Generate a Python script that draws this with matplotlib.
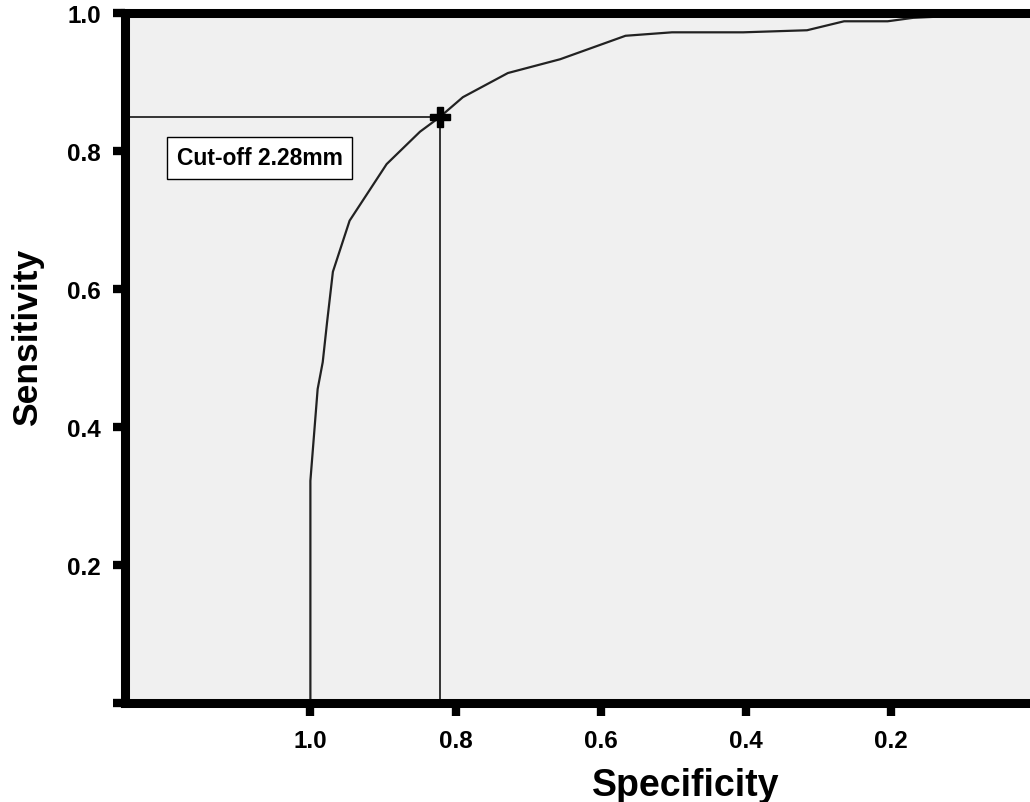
import matplotlib
matplotlib.use('Agg')
import matplotlib.pyplot as plt

plt.rcParams['font.family'] = ['Liberation Sans', 'DejaVu Sans']
plt.rcParams['font.weight'] = 'bold'

# ROC curve
specificity = [1.000, 1.000, 0.990, 0.983, 0.977, 0.969, 0.946, 0.895, 0.849,
               0.822, 0.790, 0.728, 0.656, 0.566, 0.502, 0.404, 0.316, 0.265,
               0.205, 0.170, 0.110, 0.050, 0.000]
sensitivity = [0.000, 0.322, 0.455, 0.494, 0.552, 0.625, 0.699, 0.781, 0.828,
               0.849, 0.878, 0.913, 0.933, 0.967, 0.972, 0.972, 0.975, 0.988,
               0.988, 0.993, 0.996, 1.000, 1.000]

cutoff_spec = 0.822
cutoff_sens = 0.849
cutoff_label = 'Cut-off 2.28mm'

x_ticks = [1.0, 0.8, 0.6, 0.4, 0.2]
x_tick_labels = ['1.0', '0.8', '0.6', '0.4', '0.2']
y_ticks = [0.0, 0.2, 0.4, 0.6, 0.8, 1.0]
y_tick_labels = ['', '0.2', '0.4', '0.6', '0.8', '1.0']

x_left = 1.256
x_right = 0.0


def main():
    fig = plt.figure(figsize=(10.30, 8.03), dpi=100)
    ax = fig.add_axes([124.5 / 1030, 99 / 803, 912 / 1030, 690 / 803])
    ax.set_facecolor('#f0f0f0')

    # reference lines to the cut-off point
    ax.plot([x_left, cutoff_spec], [cutoff_sens, cutoff_sens], color='black', lw=1.1)
    ax.plot([cutoff_spec, cutoff_spec], [0, cutoff_sens], color='black', lw=1.1)

    ax.plot(specificity, sensitivity, color='#222222', lw=1.6)
    ax.plot([cutoff_spec], [cutoff_sens], marker='P', ms=14, color='black',
            mec='black', ls='none')

    ax.text(1.07, 0.79, cutoff_label, fontsize=16.5, fontweight='bold',
            ha='center', va='center',
            bbox=dict(boxstyle='square,pad=0.42', fc='white', ec='black', lw=1.0))

    ax.set_xlim(x_left, x_right)
    ax.set_ylim(0, 1)

    ax.set_xticks(x_ticks)
    ax.set_xticklabels(x_tick_labels, fontsize=17.5, fontweight='bold')
    ax.set_yticks(y_ticks)
    ax.set_yticklabels(y_tick_labels, fontsize=17.5, fontweight='bold')
    ax.tick_params(axis='both', direction='out', length=9, width=6, color='black')
    ax.tick_params(axis='x', pad=10)
    ax.tick_params(axis='y', pad=8)

    for side in ['left', 'bottom', 'top']:
        ax.spines[side].set_linewidth(6.5)
        ax.spines[side].set_color('black')
    ax.spines['right'].set_visible(False)

    fig.text(27.5 / 1030, 1 - 337 / 803, 'Sensitivity', rotation=90, fontsize=25.5,
             fontweight='bold', ha='center', va='center')
    fig.text(686 / 1030, 1 - 786 / 803, 'Specificity', fontsize=27,
             fontweight='bold', ha='center', va='center')

    fig.savefig('out.png', dpi=100)


if __name__ == '__main__':
    main()
